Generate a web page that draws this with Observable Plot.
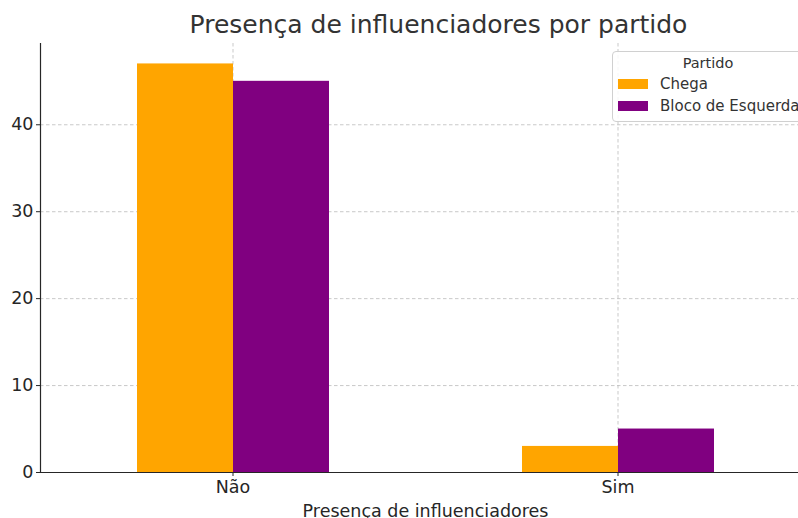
<!DOCTYPE html>
<html><head><meta charset="utf-8">
<script src="https://cdn.jsdelivr.net/npm/d3@7"></script>
<script src="https://cdn.jsdelivr.net/npm/@observablehq/plot@0.6"></script>
<style>
html,body{margin:0;padding:0;overflow:hidden;background:#fff}
body{width:798px;height:518px;position:relative;font-family:"DejaVu Sans",sans-serif;color:#262626}
#title{position:absolute;left:0;width:877px;top:10px;text-align:center;font-size:25px;color:#333;white-space:nowrap;line-height:1.16}
#chart{position:absolute;left:0;top:0;width:811px}
#chart svg{max-width:none !important}
#legend{position:absolute;left:612px;top:51px;width:195px;height:71px;border:1px solid #d0d0d0;border-radius:4px;background:rgba(255,255,255,0.85);font-size:15px;color:#333;box-sizing:border-box}
#legend .t{position:absolute;left:0;width:190px;top:3px;text-align:center;font-size:14.5px}
#legend .row{position:absolute;left:5px;white-space:nowrap;display:flex;align-items:center}
#legend .sw{width:30px;height:10px;margin-right:12px}
</style>
</head><body>
<div id="title">Presença de influenciadores por partido</div>
<div id="chart"></div>
<div id="legend"></div>
<script>
const categories = ["Não", "Sim"];
const parties = ["Chega", "Bloco de Esquerda"];
const chegaValues = [47, 3];
const blocoValues = [45, 5];
const yTicks = [0, 10, 20, 30, 40];
const partyColors = ["#FFA500", "#800080"];
const xLabel = "Presença de influenciadores";
const legendTitle = "Partido";

const table = [];
categories.forEach((c, i) => {
  table.push({cat: c, party: parties[0], value: chegaValues[i]});
  table.push({cat: c, party: parties[1], value: blocoValues[i]});
});

const dash = "3.5,2.5";
const chart = Plot.plot({
  width: 811,
  height: 518,
  marginLeft: 39,
  marginRight: 1,
  marginTop: 43,
  marginBottom: 46,
  style: {fontFamily: "DejaVu Sans, sans-serif", fontSize: "17.5px", color: "#262626", background: "transparent", maxWidth: "none", overflow: "visible"},
  fx: {domain: categories, padding: 0, axis: null},
  x: {domain: parties, paddingInner: 0, paddingOuter: 1, axis: null},
  y: {domain: [0, 49.35], axis: null},
  color: {domain: parties, range: partyColors},
  marks: [
    Plot.gridY(yTicks, {stroke: "#bbbbbb", strokeOpacity: 1, strokeWidth: 0.8, strokeDasharray: dash}),
    Plot.gridFx({stroke: "#bbbbbb", strokeOpacity: 1, strokeWidth: 0.8, strokeDasharray: dash}),
    Plot.barY(table, {fx: "cat", x: "party", y: "value", fill: "party"}),
    Plot.axisY({ticks: yTicks, tickSize: 4, tickPadding: 3, fontSize: 17.5, label: null, stroke: "#262626"}),
    Plot.axisFx({anchor: "bottom", tickSize: 4, tickPadding: 4, fontSize: 17.5, label: xLabel, labelAnchor: "center", labelOffset: 44, labelArrow: false, stroke: "#262626"}),
    Plot.frame({anchor: "left", facet: "super", stroke: "#262626", strokeWidth: 1.2}),
    Plot.frame({anchor: "bottom", facet: "super", stroke: "#262626", strokeWidth: 1.2})
  ]
});
document.getElementById("chart").appendChild(chart);

const lg = document.getElementById("legend");
const t = document.createElement("div"); t.className = "t"; t.textContent = legendTitle; lg.appendChild(t);
parties.forEach((p, i) => {
  const r = document.createElement("div"); r.className = "row"; r.style.top = (23 + i * 22) + "px";
  const s = document.createElement("div"); s.className = "sw"; s.style.background = partyColors[i];
  const l = document.createElement("span"); l.textContent = p;
  r.appendChild(s); r.appendChild(l); lg.appendChild(r);
});
</script>
</body></html>
